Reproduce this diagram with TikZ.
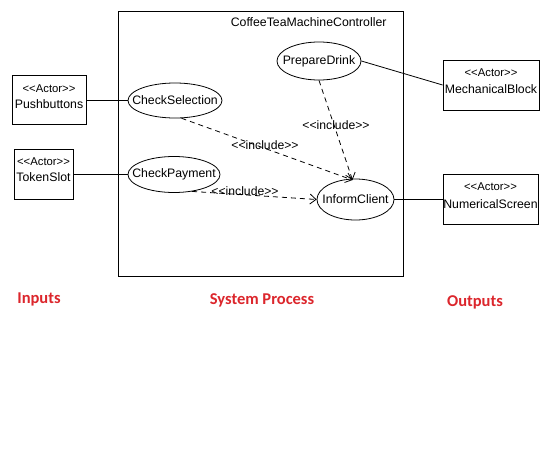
\documentclass[tikz,border=0pt]{standalone}
\usepackage{fontspec}
\newfontfamily\uml{Liberation Sans}
\newfontfamily\calib{Carlito}
\usetikzlibrary{shapes.geometric,arrows.meta}
\definecolor{lblred}{RGB}{220,38,44}
\newcommand\zerow[1]{\makebox[0pt]{#1}}
\begin{document}
\begin{tikzpicture}[x=1pt,y=-1pt,
  every node/.style={font=\uml\fontsize{12.3}{14}\selectfont},
  usecase/.style={draw,ellipse,inner sep=0pt,line width=0.8pt},
  actor/.style={draw,rectangle,inner sep=0pt,line width=0.8pt,align=center},
  link/.style={line width=0.8pt},
  incl/.style={line width=0.8pt,dash pattern=on 5pt off 4pt,-{Straight Barb[length=6pt,width=10pt,line width=0.8pt]}},
  stereo/.style={font=\uml\fontsize{11.3}{13}\selectfont},
  inclabel/.style={font=\uml\fontsize{12.2}{14}\selectfont,inner sep=0pt},
  red/.style={font=\calib\bfseries\fontsize{16.5}{18}\selectfont,text=lblred}]
\useasboundingbox (0,0) rectangle (558,453);
\fill[white] (0,0) rectangle (558,453);
% system boundary
\node[draw,line width=0.8pt,minimum width=285pt,minimum height=265pt,inner sep=0pt] (sys) at (260.5,143.5) {};
\node[anchor=east] (systitle) at (390,22) {CoffeeTeaMachineController};
% use cases
\node[usecase,minimum width=94pt,minimum height=35pt] (cs) at (175,100.5) {\zerow{CheckSelection}};
\node[usecase,minimum width=92pt,minimum height=36pt] (cp) at (174,174.5) {\zerow{CheckPayment}};
\node[usecase,minimum width=84pt,minimum height=38pt] (pd) at (319,61) {\zerow{PrepareDrink}};
\node[usecase,minimum width=77pt,minimum height=41pt] (ic) at (355.5,199.5) {\zerow{InformClient}};
% actors
\node[actor,minimum width=74pt,minimum height=49pt] (pb) at (49,99.5) {};
\node[stereo] (pbs) at (49,89) {<<Actor>>};
\node (pbn) at (49,104) {Pushbuttons};
\node[actor,minimum width=59pt,minimum height=50pt] (ts) at (43.5,174) {};
\node[stereo] (tss) at (43.5,162) {<<Actor>>};
\node (tsn) at (43.5,177) {TokenSlot};
\node[actor,minimum width=96pt,minimum height=50pt] (mb) at (491,85) {};
\node[stereo] (mbs) at (491,73) {<<Actor>>};
\node (mbn) at (491,89) {MechanicalBlock};
\node[actor,minimum width=95pt,minimum height=50pt] (ns) at (490.5,199) {};
\node[stereo] (nss) at (490.5,187) {<<Actor>>};
\node (nsn) at (490.5,204) {NumericalScreen};
% associations
\draw[link] (pb.east |- cs.west) -- (cs.west);
\draw[link] (ts.east) -- (ts.east -| cp.west);
\draw[link] (pd.east) -- (mb.west);
\draw[link] (ic.east) -- (ns.west |- ic.east);
% includes
\coordinate (ictop) at (352.5,180);
\draw[incl] (cs.-70) -- (ictop);
\draw[incl] (pd.south) -- (ictop);
\draw[incl] (cp.-43) -- (ic.west);
\node[inclabel] (l1) at (265,145) {<<include>>};
\node[inclabel] (l2) at (336,125) {<<include>>};
\node[inclabel] (l3) at (245,191) {<<include>>};
% column labels
\node[red] (in) at (39,299) {Inputs};
\node[red] (sp) at (262,300) {System Process};
\node[red] (out) at (475,302) {Outputs};
\end{tikzpicture}
\end{document}
